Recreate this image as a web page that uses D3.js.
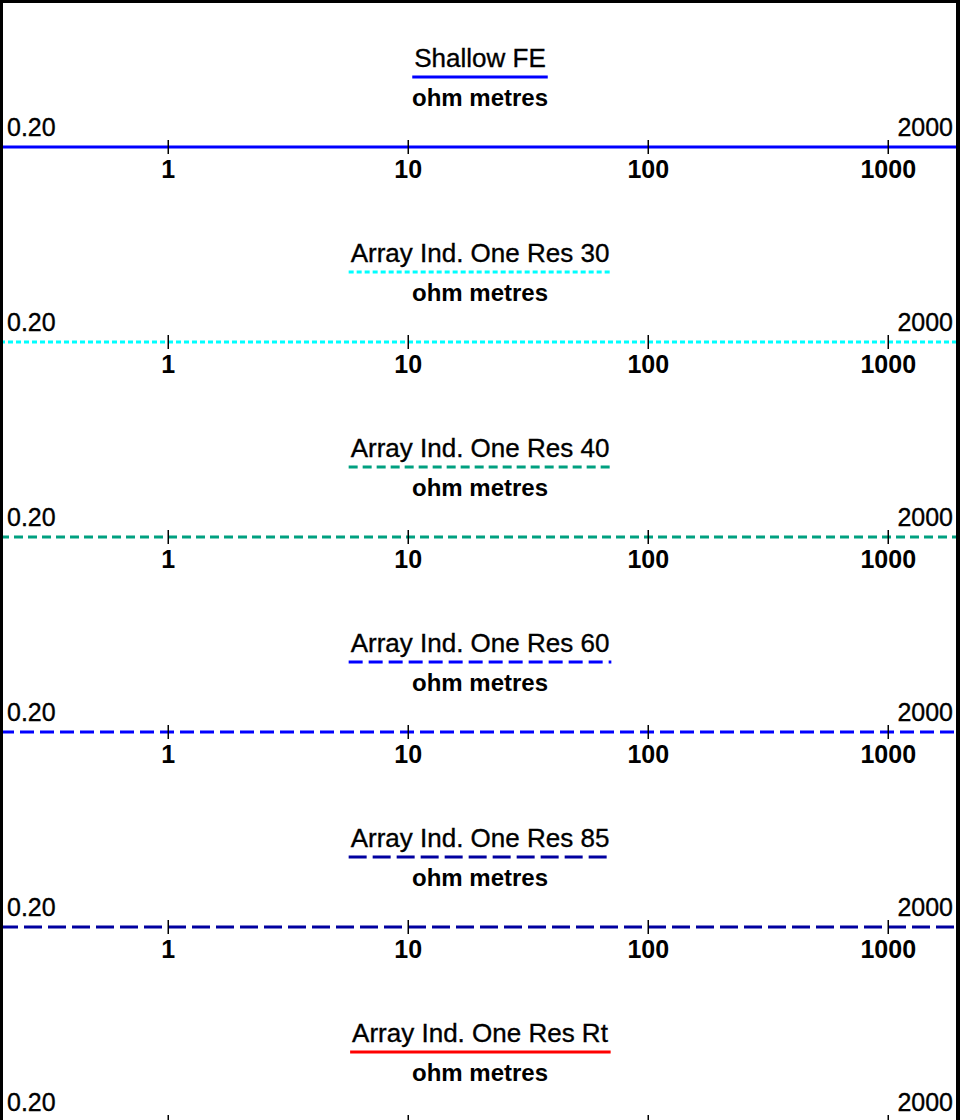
<!DOCTYPE html>
<html><head><meta charset="utf-8">
<script src="https://cdn.jsdelivr.net/npm/d3@7"></script>
<style>
html,body{margin:0;padding:0;background:#fff;overflow:hidden;}
svg{display:block;font-family:"Liberation Sans",Arial,sans-serif;}
</style></head>
<body>
<script>
// ---- data ----
const curveNames = ["Shallow FE","Array Ind. One Res 30","Array Ind. One Res 40","Array Ind. One Res 60","Array Ind. One Res 85","Array Ind. One Res Rt"];
const curveUnits = ["ohm metres","ohm metres","ohm metres","ohm metres","ohm metres","ohm metres"];
const scaleMin = 0.2, scaleMax = 2000;
const scaleMinLabel = "0.20", scaleMaxLabel = "2000";
const tickValues = [1,10,100,1000];

// ---- styles ----
const curveColors = ["#0000ff","#00ffff","#00a080","#0000ff","#0000a0","#ff0000"];
const curveDash = [null,"5,3","9,5","14,6","18,6",null];

const W = 960, H = 1120, pitch = 195, firstLine = 147;
const svg = d3.select("body").append("svg").attr("width",W).attr("height",H);
const x = d3.scaleLog().domain([scaleMin,scaleMax]).range([0,W]);

curveNames.forEach((name,i)=>{
  const y0 = firstLine + i*pitch;
  const g = svg.append("g");
  // title
  const t = g.append("text").attr("x",480).attr("y",y0-80).attr("text-anchor","middle")
    .attr("font-size",26).attr("fill","#000").attr("stroke","#000").attr("stroke-width",0.35).text(name);
  const bb = t.node().getBBox();
  g.append("line").attr("x1",bb.x-2).attr("x2",bb.x+bb.width+2).attr("y1",y0-70).attr("y2",y0-70)
    .attr("stroke",curveColors[i]).attr("stroke-width",3).attr("stroke-dasharray",curveDash[i]);
  g.append("text").attr("x",480).attr("y",y0-41).attr("text-anchor","middle")
    .attr("font-size",24).attr("font-weight","bold").attr("fill","#000").text(curveUnits[i]);
  g.append("text").attr("x",7).attr("y",y0-11).attr("font-size",25).attr("fill","#000")
    .attr("stroke","#000").attr("stroke-width",0.35).text(scaleMinLabel);
  g.append("text").attr("x",953).attr("y",y0-11).attr("text-anchor","end").attr("font-size",25).attr("fill","#000")
    .attr("stroke","#000").attr("stroke-width",0.35).text(scaleMaxLabel);
  // main curve line
  g.append("line").attr("x1",x(scaleMin)).attr("x2",x(scaleMax)).attr("y1",y0).attr("y2",y0)
    .attr("stroke",curveColors[i]).attr("stroke-width",3).attr("stroke-dasharray",curveDash[i]);
  // axis
  const ax = g.append("g").attr("transform",`translate(0,${y0-7})`)
    .call(d3.axisBottom(x).tickValues(tickValues).tickSize(14).tickFormat(d3.format("d")));
  ax.select(".domain").remove();
  ax.selectAll(".tick line").attr("stroke","#000").attr("stroke-width",1.5);
  ax.selectAll(".tick text").attr("y",38).attr("dy",null).attr("font-size",25)
    .attr("font-family","'Liberation Sans',Arial,sans-serif").attr("font-weight","bold").attr("fill","#000");
  // labels of a scale lying below the visible sheet are not shown in the reference
  if (y0 + 31 - 18 > H) ax.selectAll(".tick text").remove();
});

// frame
svg.append("rect").attr("x",0).attr("y",0).attr("width",3).attr("height",H).attr("fill","#000");
svg.append("rect").attr("x",0).attr("y",0).attr("width",W).attr("height",3).attr("fill","#000");
svg.append("rect").attr("x",956).attr("y",0).attr("width",4).attr("height",H).attr("fill","#000");
</script>
</body></html>
